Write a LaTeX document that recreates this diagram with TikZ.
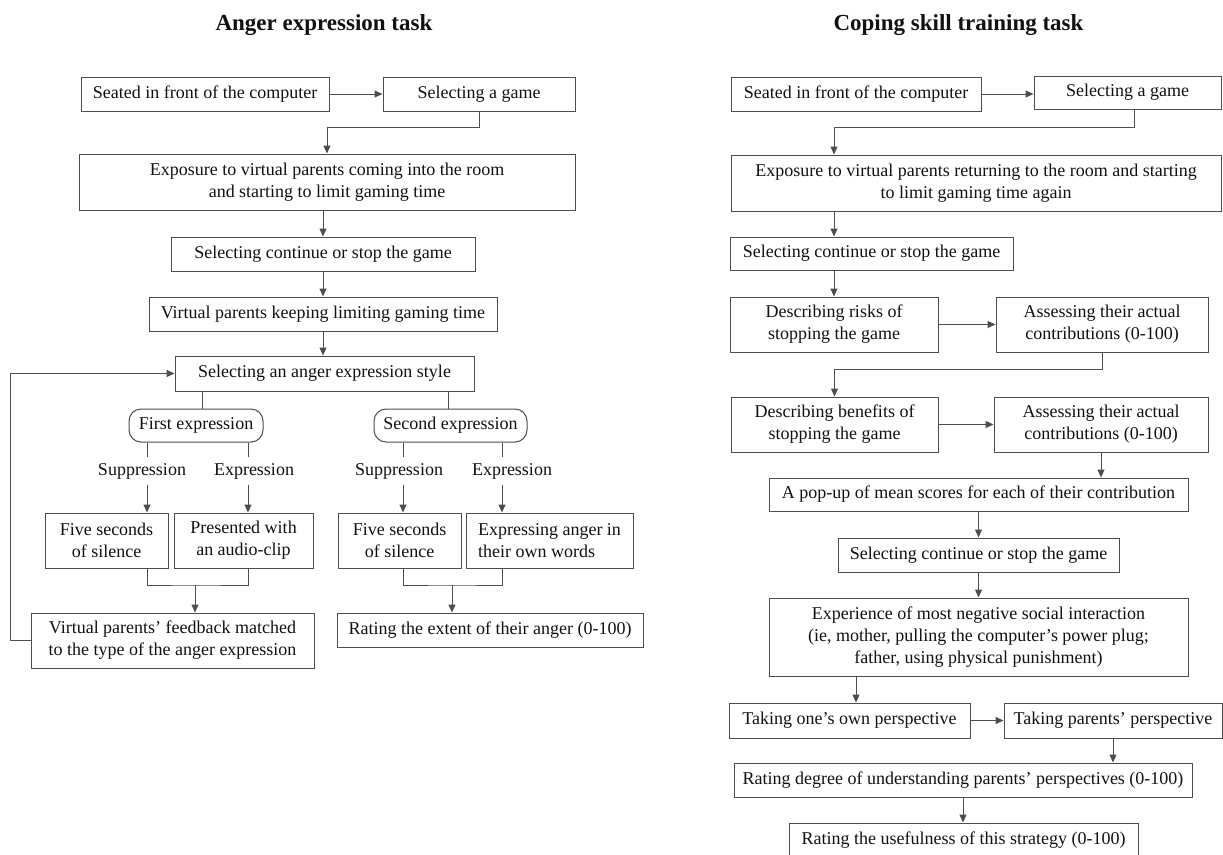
\documentclass[tikz,border=0pt]{standalone}
\usepackage{fontspec}
\setmainfont{Liberation Serif}
\usetikzlibrary{arrows.meta,calc}
\definecolor{linec}{HTML}{4D4D4D}
\definecolor{txtc}{HTML}{111111}
\newcommand\bodyf{\fontsize{18}{22}\selectfont}
\newcommand\titlef{\fontsize{23}{28}\selectfont\bfseries}
\tikzset{
  box/.style={draw=linec, line width=1pt, inner sep=0pt, align=center, font=\bodyf, text=txtc},
  rbox/.style={box, rounded corners=12pt},
  lbl/.style={inner xsep=2pt, inner ysep=5.5pt, text height=12pt, text depth=4pt, font=\bodyf, text=txtc},
  ttl/.style={anchor=base, font=\titlef, text=txtc},
  conn/.style={draw=linec, line width=1pt},
  arr/.style={conn, -{Triangle[length=8pt,width=7pt]}},
}
\begin{document}
\begin{tikzpicture}[x=1pt,y=-1pt]
\useasboundingbox (0,0) rectangle (1223,854);
% ---------------- Left: Anger expression task ----------------
\node[ttl] (T1) at (324,30) {Anger expression task};
\node[box, minimum width=248pt, minimum height=34pt] (A1) at (205,94) {Seated in front of the computer};
\node[box, minimum width=192pt, minimum height=34pt] (A2) at (479,94) {Selecting a game};
\node[box, minimum width=496pt, minimum height=56pt] (A3) at (327,182) {Exposure to virtual parents coming into the room\\and starting to limit gaming time};
\node[box, minimum width=304pt, minimum height=34pt] (A4) at (323,254) {Selecting continue or stop the game};
\node[box, minimum width=348pt, minimum height=34pt] (A5) at (323,314) {Virtual parents keeping limiting gaming time};
\node[box, minimum width=299pt, minimum height=35pt] (A6) at (324.5,373.5) {Selecting an anger expression style};
\node[rbox, minimum width=134pt, minimum height=33pt] (F1) at (196,425.5) {First expression};
\node[rbox, minimum width=153pt, minimum height=33pt] (F2) at (450.5,425.5) {Second expression};
\node[lbl] (S1) at (142,471) {Suppression};
\node[lbl] (E1) at (254,471) {Expression};
\node[lbl] (S2) at (399,471) {Suppression};
\node[lbl] (E2) at (512,471) {Expression};
\node[box, minimum width=123pt, minimum height=55pt] (B1) at (106.5,540.5) {Five seconds\\of silence};
\node[box, minimum width=139pt, minimum height=55pt] (B2) at (243.5,540.5) {Presented with\\an audio-clip};
\node[box, minimum width=123pt, minimum height=55pt] (B3) at (399.5,540.5) {Five seconds\\of silence};
\node[box, align=left, minimum width=167pt, minimum height=55pt] (B4) at (549.5,540.5) {Expressing anger in\\their own words};
\node[box, minimum width=283pt, minimum height=55pt] (C1) at (172.5,640.5) {Virtual parents' feedback matched\\to the type of the anger expression};
\node[box, minimum width=306pt, minimum height=34pt] (C2) at (490,630) {Rating the extent of their anger (0-100)};
\coordinate (kf1) at (202,0);
\coordinate (kf2) at (448,0);
\coordinate (k1) at (147,0);
\coordinate (k2) at (248,0);
\coordinate (k3) at (403,0);
\coordinate (k4) at (502,0);
\coordinate (j1) at (195,585);
\coordinate (j2) at (452,585);
\draw[arr] (A1.east) -- (A2.west);
\draw[arr] (A2.south) -- ++(0,16) -| (A3.north);
\draw[arr] (A3.south -| A4.north) -- (A4.north);
\draw[arr] (A4.south) -- (A5.north);
\draw[arr] (A5.south) -- (A5.south |- A6.north);
\draw[conn] (A6.south -| kf1) -- (F1.north -| kf1);
\draw[conn] (A6.south -| kf2) -- (F2.north -| kf2);
\draw[conn] (F1.south -| k1) -- (S1.north -| k1);
\draw[conn] (F1.south -| k2) -- (E1.north -| k2);
\draw[conn] (F2.south -| k3) -- (S2.north -| k3);
\draw[conn] (F2.south -| k4) -- (E2.north -| k4);
\draw[arr] (S1.south -| k1) -- (B1.north -| k1);
\draw[arr] (E1.south -| k2) -- (B2.north -| k2);
\draw[arr] (S2.south -| k3) -- (B3.north -| k3);
\draw[arr] (E2.south -| k4) -- (B4.north -| k4);
\draw[conn] (B1.south -| k1) |- (j1) -| (B2.south -| k2);
\draw[arr] (j1) -- (C1.north -| j1);
\draw[conn] (B3.south -| k3) |- (j2) -| (B4.south -| k4);
\draw[arr] (j2) -- (C2.north -| j2);
\draw[arr] (C1.west) -- ++(-20,0) |- (A6.west);
% ---------------- Right: Coping skill training task ----------------
\node[ttl] (T2) at (958.5,30) {Coping skill training task};
\node[box, minimum width=250pt, minimum height=34pt] (R1) at (856,94) {Seated in front of the computer};
\node[box, minimum width=187pt, minimum height=33pt] (R2) at (1127.5,92.5) {Selecting a game};
\node[box, minimum width=490pt, minimum height=56pt] (R3) at (976,183) {Exposure to virtual parents returning to the room and starting\\to limit gaming time again};
\node[box, minimum width=283pt, minimum height=33pt] (R4) at (871.5,253.5) {Selecting continue or stop the game};
\node[box, minimum width=208pt, minimum height=55pt] (R5) at (834,324.5) {Describing risks of\\stopping the game};
\node[box, minimum width=212pt, minimum height=55pt] (R6) at (1102,324.5) {Assessing their actual\\contributions (0-100)};
\node[box, minimum width=207pt, minimum height=55pt] (R7) at (834.5,424.5) {Describing benefits of\\stopping the game};
\node[box, minimum width=214pt, minimum height=55pt] (R8) at (1101,424.5) {Assessing their actual\\contributions (0-100)};
\node[box, minimum width=419pt, minimum height=33pt] (R9) at (978.5,494.5) {A pop-up of mean scores for each of their contribution};
\node[box, minimum width=281pt, minimum height=34pt] (R10) at (978.5,555) {Selecting continue or stop the game};
\node[box, minimum width=419pt, minimum height=78pt] (R11) at (978.5,637) {Experience of most negative social interaction\\(ie, mother, pulling the computer's power plug;\\father, using physical punishment)};
\node[box, minimum width=241pt, minimum height=35pt] (R12) at (849.5,720.5) {Taking one's own perspective};
\node[box, minimum width=218pt, minimum height=35pt] (R13) at (1113,720.5) {Taking parents' perspective};
\node[box, minimum width=458pt, minimum height=34pt] (R14) at (963,780) {Rating degree of understanding parents' perspectives (0-100)};
\node[box, minimum width=349pt, minimum height=34pt] (R15) at (963.5,840) {Rating the usefulness of this strategy (0-100)};
\coordinate (xr2) at (1134,0);
\coordinate (xl) at (834,0);
\coordinate (xk) at (856,0);
\draw[arr] (R1.east) -- (R1.east -| R2.west);
\draw[arr] (R2.south -| xr2) -- ++(0,18) -| (R3.north -| xl);
\draw[arr] (R3.south -| xl) -- (R4.north -| xl);
\draw[arr] (R4.south -| xl) -- (R5.north -| xl);
\draw[arr] (R5.east) -- (R6.west);
\draw[arr] (R6.south) -- ++(0,17) -| (R7.north);
\draw[arr] (R7.east) -- (R8.west);
\draw[arr] (R8.south) -- (R9.north -| R8.south);
\draw[arr] (R9.south) -- (R10.north);
\draw[arr] (R10.south) -- (R11.north);
\draw[arr] (R11.south -| xk) -- (R12.north -| xk);
\draw[arr] (R12.east) -- (R13.west);
\draw[arr] (R13.south) -- (R14.north -| R13.south);
\draw[arr] (R14.south) -- (R15.north -| R14.south);
\end{tikzpicture}
\end{document}
